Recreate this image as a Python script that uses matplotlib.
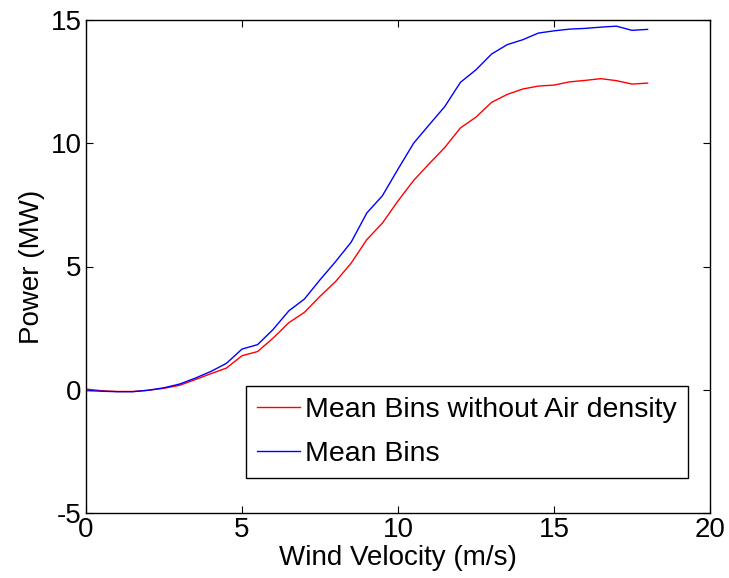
import numpy as np
import matplotlib
matplotlib.use("Agg")
import matplotlib.pyplot as plt

# wind speed bins (m/s)
wind = [0, 0.5, 1, 1.5, 2, 2.5, 3, 3.5, 4, 4.5, 5, 5.5, 6, 6.5, 7, 7.5, 8, 8.5, 9,
        9.5, 10, 10.5, 11, 11.5, 12, 12.5, 13, 13.5, 14, 14.5, 15, 15.5, 16,
        16.5, 17, 17.5, 18]

# mean power (MW), without air density correction
power_no_rho = [0.03, -0.04, -0.07, -0.07, -0.02, 0.06, 0.18, 0.41, 0.65, 0.88,
                1.38, 1.55, 2.10, 2.72, 3.14, 3.79, 4.39, 5.14, 6.09, 6.76,
                7.66, 8.49, 9.17, 9.83, 10.62, 11.06, 11.66, 11.98, 12.20,
                12.32, 12.36, 12.49, 12.55, 12.62, 12.54, 12.40, 12.44]

# mean power (MW)
power_mean = [-0.03, -0.06, -0.08, -0.08, -0.02, 0.08, 0.23, 0.47, 0.74, 1.07,
              1.65, 1.83, 2.45, 3.20, 3.68, 4.46, 5.20, 5.99, 7.17, 7.87,
              8.95, 10.0, 10.75, 11.49, 12.47, 12.98, 13.62, 14.0, 14.2,
              14.47, 14.56, 14.63, 14.66, 14.71, 14.75, 14.58, 14.62]

plt.rcParams['font.family'] = ['Liberation Sans', 'DejaVu Sans']
plt.rcParams['axes.unicode_minus'] = False

fig = plt.figure(figsize=(7.29, 5.78), dpi=100)
ax = fig.add_axes([86 / 729, 1 - 513 / 578, 624 / 729, 493 / 578])

ax.plot(wind, power_no_rho, color='#ff0000', lw=1.0, label='Mean Bins without Air density')
ax.plot(wind, power_mean, color='#0000ff', lw=1.0, label='Mean Bins')

ax.set_xlim(0, 20)
ax.set_ylim(-5, 15)
ax.set_xticks([0, 5, 10, 15, 20])
ax.set_yticks([-5, 0, 5, 10, 15])
ax.tick_params(direction='in', length=5, width=0.8, labelsize=20, top=True, right=True, pad=3)
for s in ax.spines.values():
    s.set_linewidth(1.0)

ax.set_xlabel('Wind Velocity (m/s)', fontsize=20, labelpad=1)
ax.set_ylabel('Power (MW)', fontsize=20, labelpad=4)

leg = ax.legend(loc='lower right', bbox_to_anchor=(0.965, 0.071), fontsize=20.5,
                fancybox=False, framealpha=1, edgecolor='black',
                handlelength=1.5, handletextpad=0.18, borderpad=0.39,
                labelspacing=0.62, borderaxespad=0)
leg.get_frame().set_linewidth(1.0)

fig.savefig('out.png', dpi=100)
